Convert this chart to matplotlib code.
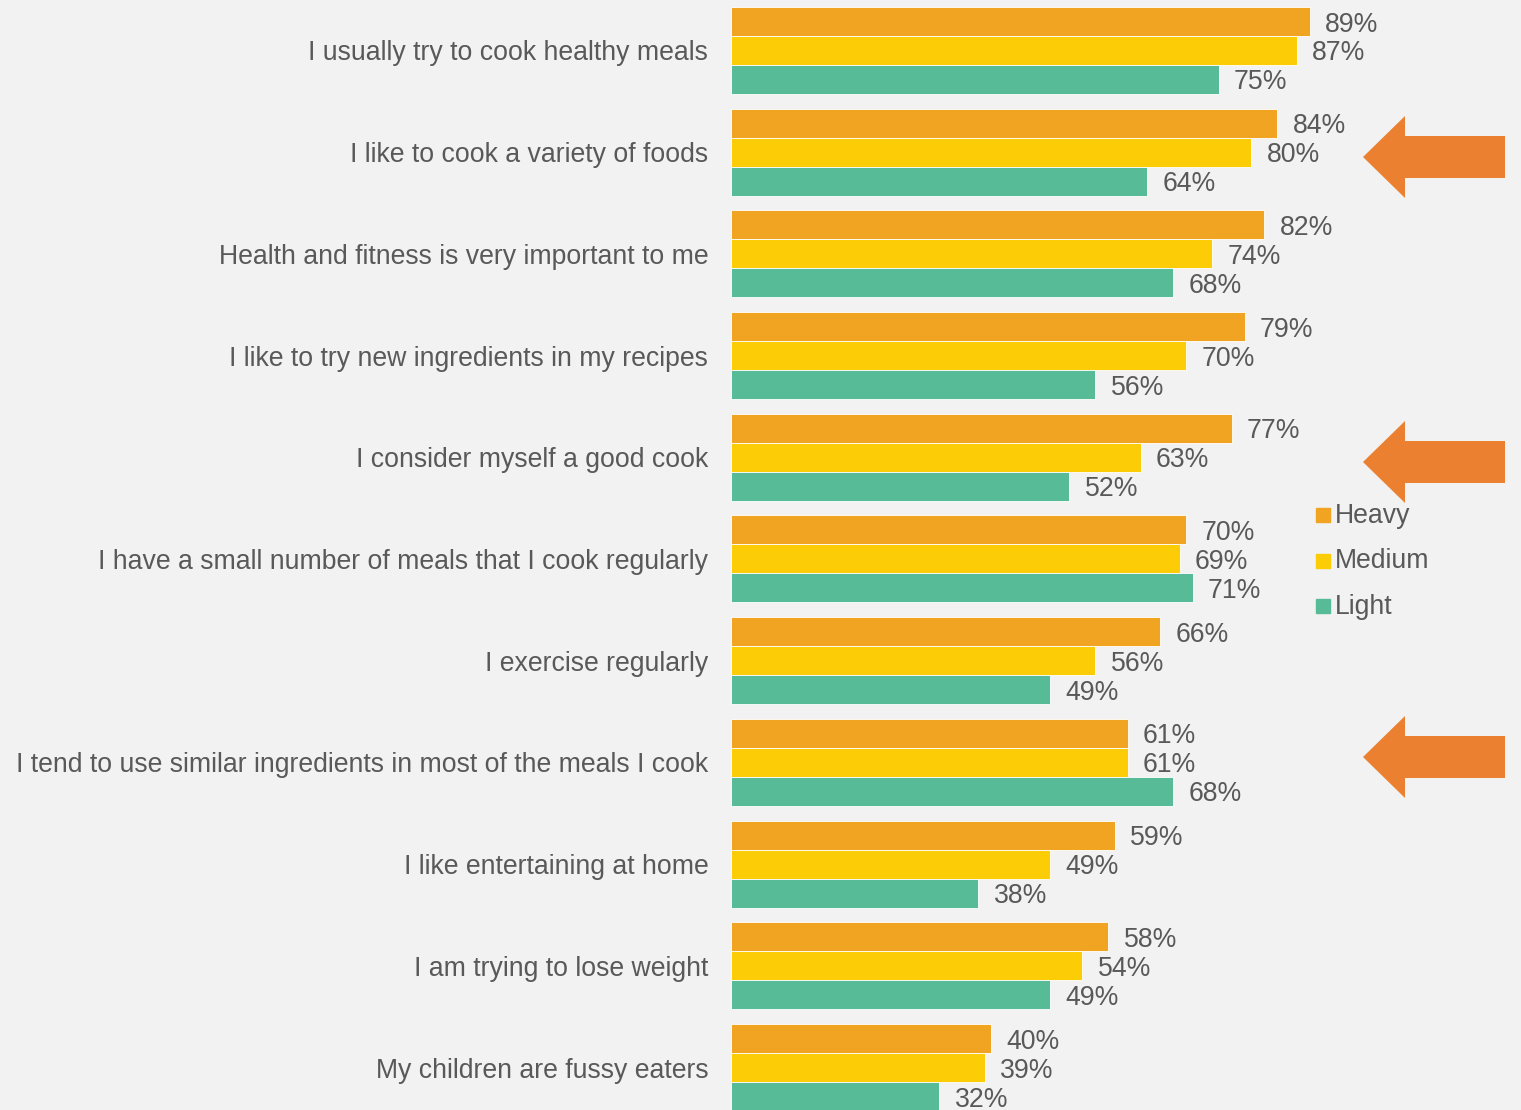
import matplotlib.pyplot as plt
import numpy as np
from matplotlib.patches import Polygon, Rectangle

plt.rcParams['font.family'] = ['Liberation Sans', 'DejaVu Sans']

statements = [
    "I usually try to cook healthy meals",
    "I like to cook a variety of foods",
    "Health and fitness is very important to me",
    "I like to try new ingredients in my recipes",
    "I consider myself a good cook",
    "I have a small number of meals that I cook regularly",
    "I exercise regularly",
    "I tend to use similar ingredients in most of the meals I cook",
    "I like entertaining at home",
    "I am trying to lose weight",
    "My children are fussy eaters",
]
heavy = [89, 84, 82, 79, 77, 70, 66, 61, 59, 58, 40]
medium = [87, 80, 74, 70, 63, 69, 56, 61, 49, 54, 39]
light = [75, 64, 68, 56, 52, 71, 49, 68, 38, 49, 32]
series_names = ["Heavy", "Medium", "Light"]
colors = ["#F0A422", "#FCCC06", "#58BB98"]

W, H = 1521, 1110
bg = "#F2F2F2"
txt = "#595959"
fs = 19.2

fig = plt.figure(figsize=(W / 100, H / 100), dpi=100, facecolor=bg)
ax = fig.add_axes([731 / W, 0, 650 / W, 1])
ax.set_facecolor(bg)

y = np.arange(len(statements))
bh = 0.285
for k, (vals, c) in enumerate(zip([heavy, medium, light], colors)):
    pos = y + (k - 1) * bh
    ax.barh(pos, vals, height=bh, color=c, edgecolor="white", linewidth=0.6)
    for p, v in zip(pos, vals):
        ax.text(v + 2.4, p + 0.03, f"{v}%", va="center", ha="left", fontsize=fs, color=txt)

for yi, s in zip(y, statements):
    ax.text(-3.5, yi + 0.03, s, va="center", ha="right", fontsize=fs, color=txt)

ax.set_xlim(0, 100)
ax.set_ylim(10.418, -0.496)
ax.axis("off")

# legend squares and labels
for i, (name, c) in enumerate(zip(series_names, colors)):
    cy = 515 + i * 45.5
    fig.patches.append(Rectangle((1316 / W, 1 - (cy + 7) / H), 14 / W, 14 / H,
                                 transform=fig.transFigure, color=c))
    fig.text(1335 / W, 1 - (cy + 1) / H, name, va="center", ha="left", fontsize=fs, color=txt)

# left-pointing arrows
for cy in [157, 462, 757]:
    pts = [(1363, cy), (1405, cy - 41), (1405, cy - 21), (1505, cy - 21),
           (1505, cy + 21), (1405, cy + 21), (1405, cy + 41)]
    pts = [(px / W, 1 - py / H) for px, py in pts]
    fig.patches.append(Polygon(pts, closed=True, transform=fig.transFigure,
                               facecolor="#EB8130", edgecolor="none"))

fig.savefig("out.png", dpi=100, facecolor=bg)
